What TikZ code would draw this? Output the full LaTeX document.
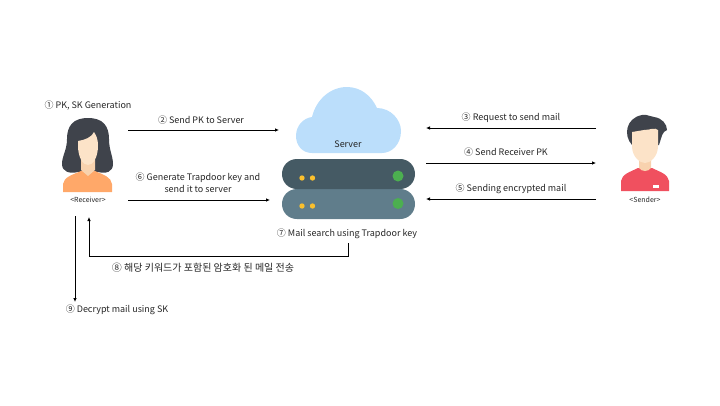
\documentclass[tikz,border=0pt]{standalone}
\usepackage{fontspec}
\usepackage{xcolor}
\setmainfont{Noto Sans CJK KR}
\usetikzlibrary{arrows.meta}
\definecolor{hairdark}{HTML}{3F434B}
\definecolor{skin}{HTML}{FCE3C8}
\definecolor{skinshade}{HTML}{F8D2AE}
\definecolor{shirtorange}{HTML}{FFA869}
\definecolor{shirtred}{HTML}{F0505F}
\definecolor{cloudblue}{HTML}{BBDEFB}
\definecolor{rackdark}{HTML}{455A64}
\definecolor{racklight}{HTML}{607D8B}
\definecolor{ledgreen}{HTML}{4CAF50}
\definecolor{ledyellow}{HTML}{FBC02D}
\tikzset{
	label/.style={font=\fontsize{9}{12}\selectfont,text=black!85,inner sep=0pt,align=center},
	small/.style={font=\fontsize{7}{8}\selectfont,text=black!85,inner sep=0pt},
	flow/.style={black,line width=0.8pt,-{Latex[length=4pt,width=3.6pt]}}
}
\begin{document}
\begin{tikzpicture}[x=1pt,y=-1pt]
	\useasboundingbox (0,0) rectangle (720,405);
	% receiver
	\fill[hairdark] (88,118) .. controls (73,118) and (67,126) .. (67,139) .. controls (67,150) and (62,156) .. (62,164) .. controls (62,172) and (70,174) .. (78,172) -- (98,172) .. controls (106,174) and (113,172) .. (113,164) .. controls (113,156) and (109,150) .. (109,139) .. controls (109,126) and (103,118) .. (88,118) -- cycle;
	\fill[shirtorange] (63,192) -- (63,184) .. controls (64,177) and (72,175) .. (81,171) -- (95,171) .. controls (104,175) and (111,177) .. (112,184) -- (112,192) -- cycle;
	\fill[skinshade] (81,160) -- (95,160) -- (95,170) -- (88,176) -- (81,170) -- cycle;
	\fill[skin] (78,141) .. controls (85,140) and (92,137) .. (94,132) .. controls (96,135) and (98,139) .. (98,145) .. controls (98,158) and (93,165) .. (88,165) .. controls (83,165) and (78,158) .. (78,145) -- cycle;
	\node[small] (receiver) at (88,199.5) {<Receiver>};
	% sender
	\fill[shirtred] (621,191) -- (621,181) .. controls (622,174) and (630,172) .. (638,168) -- (652,168) .. controls (660,172) and (668,174) .. (669,181) -- (669,191) -- cycle;
	\fill[skinshade] (639,160) -- (651,160) -- (651,168) .. controls (648,172) and (642,172) .. (639,168) -- cycle;
	\fill[hairdark] (632,145) .. controls (623,135) and (626,118) .. (642,115) .. controls (648,114) and (650,117) .. (654,117) .. controls (662,118) and (667,124) .. (667,130) .. controls (662,132) and (662,136) .. (659,145) -- cycle;
	\fill[skin] (632,132) -- (644,130) .. controls (650,130) and (655,127) .. (658,130) -- (658,146) .. controls (658,157) and (650,163) .. (645,163) .. controls (640,163) and (632,157) .. (632,146) -- cycle;
	\fill[white] (653,185) rectangle (659,187.5);
	\node[small] (sender) at (645,199.5) {<Sender>};
	% cloud
	\fill[cloudblue] (312,153) .. controls (302,153) and (296,145) .. (296,136) .. controls (296,125) and (304,118) .. (312,117) .. controls (316,100) and (330,87) .. (347,87) .. controls (360,87) and (371,95) .. (377,108) .. controls (391,108) and (401,120) .. (401,131) .. controls (401,144) and (392,153) .. (382,153) -- cycle;
	\node[label] (server) at (348,144) {Server};
	% rack
	\fill[racklight] (297,189) -- (400,189) .. controls (409,189) and (415,196) .. (415,204) .. controls (415,212) and (409,219) .. (400,219) -- (297,219) .. controls (288,219) and (282,212) .. (282,204) .. controls (282,196) and (288,189) .. (297,189) -- cycle;
	\fill[rackdark] (297,159) -- (400,159) .. controls (409,159) and (415,166) .. (415,174) .. controls (415,182) and (409,189) .. (400,189) -- (297,189) .. controls (288,189) and (282,182) .. (282,174) .. controls (282,166) and (288,159) .. (297,159) -- cycle;
	\foreach \y in {178,206} {
		\fill[ledyellow] (302,\y) circle (2.7);
		\fill[ledyellow] (312.5,\y) circle (2.7);
	}
	\fill[ledgreen] (398,176) circle (5.5);
	\fill[ledgreen] (398,203.5) circle (5.5);
	% texts
	\node[label] (stepa) at (88,105.5) {① PK, SK Generation};
	\node[label] (stepb) at (201,120.5) {② Send PK to Server};
	\node[label] (stepc) at (511,117.5) {③ Request to send mail};
	\node[label] (stepd) at (506,152.5) {④ Send Receiver PK};
	\node[label] (stepe) at (511,188.5) {⑤ Sending encrypted mail};
	\node[label] (stepf) at (198,182.5) {⑥ Generate Trapdoor key and\\send it to server};
	\node[label] (stepg) at (347,233.5) {⑦ Mail search using Trapdoor key};
	\node[label,font=\fontsize{10}{12}\selectfont] (steph) at (203,268) {⑧ 해당 키워드가 포함된 암호화 된 메일 전송};
	\node[label] (stepi) at (117,309.5) {⑨ Decrypt mail using SK};
	% connector ends
	\coordinate (ba) at (128,130);
	\coordinate (bb) at (279,130);
	\coordinate (ca) at (596,128);
	\coordinate (cb) at (426,128);
	\coordinate (da) at (426,163);
	\coordinate (db) at (596,163);
	\coordinate (ea) at (596,199);
	\coordinate (eb) at (426,199);
	\coordinate (fa) at (128,200);
	\coordinate (fb) at (270,200);
	\coordinate (ha) at (348,243);
	\coordinate (hc) at (348,256);
	\coordinate (hd) at (89,256);
	\coordinate (hb) at (89,217);
	\coordinate (ia) at (75,216);
	\coordinate (ib) at (75,302);
	% arrows
	\draw[flow] (ba)--(bb);
	\draw[flow] (ca)--(cb);
	\draw[flow] (da)--(db);
	\draw[flow] (ea)--(eb);
	\draw[flow] (fa)--(fb);
	\draw[flow] (ha)--(hc)--(hd)--(hb);
	\draw[flow] (ia)--(ib);
\end{tikzpicture}
\end{document}
